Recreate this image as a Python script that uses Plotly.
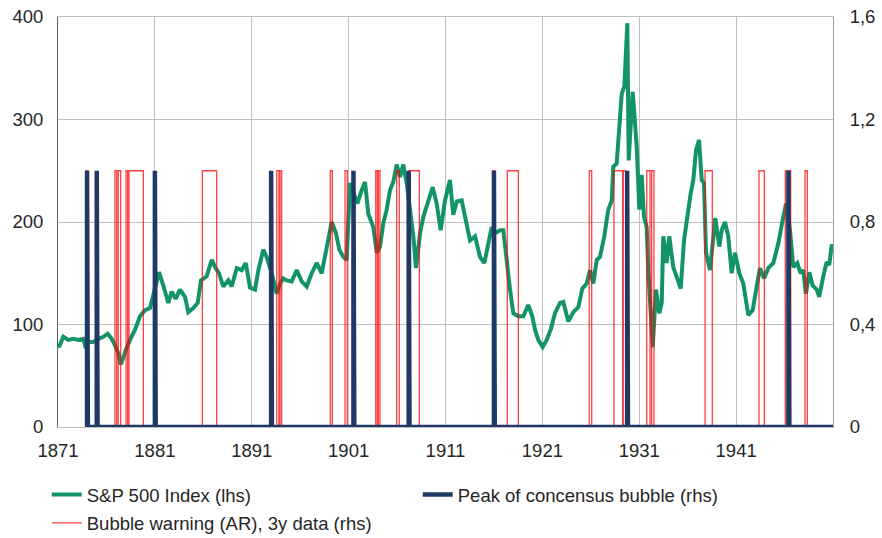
import plotly.graph_objects as go

# S&P 500 index (lhs)
sp_years = [
    1871.0, 1871.10, 1871.55, 1872.06, 1872.58, 1873.10, 1873.61, 1873.86, 1874.13, 1874.64,
    1875.16, 1875.68, 1876.13, 1876.54, 1876.88, 1877.22, 1877.50, 1877.74, 1877.99, 1878.43,
    1878.95, 1879.46, 1879.98, 1880.50, 1880.73, 1881.01, 1881.43, 1881.87, 1882.39, 1882.74,
    1883.15, 1883.59, 1884.11, 1884.45, 1884.97, 1885.42, 1885.76, 1886.35, 1886.87, 1887.21,
    1887.62, 1888.06, 1888.58, 1888.93, 1889.45, 1889.96, 1890.38, 1890.82, 1891.34, 1891.68,
    1892.19, 1892.54, 1893.06, 1893.58, 1893.92, 1894.26, 1894.61, 1895.12, 1895.64, 1896.16,
    1896.67, 1897.19, 1897.70, 1898.22, 1898.74, 1899.25, 1899.70, 1900.04, 1900.45, 1900.80,
    1901.14, 1901.56, 1901.90, 1902.35, 1902.69, 1903.03, 1903.55, 1903.90, 1904.24, 1904.58,
    1904.93, 1905.27, 1905.61, 1905.96, 1906.30, 1906.64, 1906.99, 1907.34, 1907.68, 1907.96,
    1908.37, 1908.71, 1909.22, 1909.68, 1910.09, 1910.50, 1910.95, 1911.46, 1911.80, 1912.16,
    1912.67, 1913.19, 1913.53, 1914.05, 1914.56, 1915.01, 1915.36, 1915.77, 1916.11, 1916.63,
    1916.97, 1917.32, 1917.66, 1918.00, 1918.51, 1919.03, 1919.55, 1919.96, 1920.24, 1920.58,
    1921.03, 1921.45, 1921.89, 1922.30, 1922.82, 1923.16, 1923.68, 1924.19, 1924.71, 1925.12,
    1925.57, 1925.92, 1926.26, 1926.61, 1926.95, 1927.39, 1927.80, 1928.16, 1928.32, 1928.67,
    1928.94, 1929.19, 1929.46, 1929.63, 1929.77, 1929.91, 1930.05, 1930.32, 1930.49, 1930.74,
    1931.01, 1931.25, 1931.49, 1931.77, 1931.93, 1932.11, 1932.39, 1932.73, 1933.07, 1933.32,
    1933.48, 1933.83, 1934.10, 1934.51, 1934.93, 1935.28, 1935.62, 1935.96, 1936.31, 1936.58,
    1936.86, 1937.17, 1937.45, 1937.68, 1937.89, 1938.30, 1938.58, 1938.85, 1939.26, 1939.51,
    1939.85, 1940.19, 1940.54, 1940.88, 1941.33, 1941.74, 1942.26, 1942.71, 1943.12, 1943.46,
    1943.88, 1944.32, 1944.84, 1945.35, 1945.81, 1946.15, 1946.56, 1946.90, 1947.31, 1947.66,
    1947.93, 1948.21, 1948.55, 1948.90, 1949.32, 1949.58, 1949.99, 1950.35, 1950.62, 1950.87,
    1951.0,
]
sp_values = [
    80, 78, 88, 85, 86, 85, 86, 77, 83, 83,
    86, 88, 91, 86, 80, 72, 61, 69, 75, 85,
    95, 108, 114, 116, 124, 137, 151, 138, 121, 132,
    125, 134, 127, 112, 116, 121, 143, 147, 163, 156,
    150, 137, 143, 137, 155, 153, 160, 136, 134, 153,
    173, 166, 150, 130, 140, 145, 143, 142, 153, 142,
    137, 150, 160, 150, 173, 200, 189, 173, 166, 163,
    238, 228, 218, 231, 239, 208, 195, 170, 176, 199,
    212, 231, 239, 256, 244, 256, 238, 212, 186, 155,
    189, 205, 221, 234, 218, 192, 221, 241, 207, 220,
    221, 195, 182, 186, 166, 160, 176, 195, 189, 192,
    192, 160, 134, 111, 108, 108, 119, 108, 95, 85,
    78, 85, 96, 111, 121, 122, 103, 112, 117, 135,
    140, 153, 140, 163, 166, 186, 212, 221, 254, 257,
    293, 325, 332, 365, 394, 260, 283, 327, 306, 273,
    212, 246, 205, 195, 153, 127, 78, 134, 111, 121,
    186, 160, 186, 156, 143, 135, 182, 208, 228, 241,
    270, 280, 241, 238, 170, 153, 182, 204, 176, 192,
    200, 186, 150, 170, 150, 140, 109, 114, 137, 155,
    145, 155, 160, 179, 202, 218, 192, 156, 160, 150,
    153, 130, 151, 138, 134, 127, 147, 161, 158, 178,
    174,
]

# Peak of consensus bubble (rhs): months where the flag is 1
peak_years = [1874.0, 1875.0, 1881.0, 1893.0, 1901.5, 1907.2, 1916.0, 1929.75, 1946.4]

# Bubble warning (AR), 3y data (rhs): periods where the flag is 1
warn_start = [1873.92, 1876.88, 1877.22, 1878.02, 1878.33, 1885.90, 1893.58, 1893.92,
              1899.11, 1900.63, 1903.80, 1904.07, 1905.96, 1907.23, 1915.87, 1917.38,
              1925.84, 1928.39, 1929.36, 1931.77, 1932.28, 1937.79, 1943.36, 1946.08,
              1948.11]
warn_end = [1874.08, 1877.06, 1877.47, 1878.19, 1879.81, 1887.38, 1893.81, 1894.09,
            1899.32, 1900.86, 1903.96, 1904.24, 1906.23, 1908.30, 1916.10, 1918.52,
            1926.09, 1929.29, 1929.60, 1932.11, 1932.52, 1938.54, 1943.91, 1946.63,
            1948.35]

flag_start = 1874.0
flag_end = 1951.0
x_ticks = [1871, 1881, 1891, 1901, 1911, 1921, 1931, 1941]

FONT = "Liberation Sans"
TEXT = "#262626"
GREEN = "#139468"
NAVY = "#1F3864"
RED = "rgba(255, 0, 0, 0.75)"
GRID = "#C0C0C0"

# turn the flags into step lines along a zero baseline
peak_x, peak_y = [flag_start], [0]
for p in peak_years:
    peak_x += [p, p, p + 1 / 12, p + 1 / 12]
    peak_y += [0, 1, 1, 0]
peak_x.append(flag_end)
peak_y.append(0)

warn_x, warn_y = [flag_start], [0]
for s, e in zip(warn_start, warn_end):
    warn_x += [s, s, e, e]
    warn_y += [0, 1, 1, 0]
warn_x.append(flag_end)
warn_y.append(0)

fig = go.Figure()

fig.add_trace(go.Scatter(
    x=sp_years, y=sp_values, mode="lines", name="S&P 500 Index (lhs)",
    line=dict(color=GREEN, width=4), legend="legend",
))
fig.add_trace(go.Scatter(
    x=warn_x, y=warn_y, mode="lines", name="Bubble warning (AR), 3y data (rhs)",
    line=dict(color=RED, width=1.3), yaxis="y2", legend="legend2",
))
fig.add_trace(go.Scatter(
    x=peak_x, y=peak_y, mode="lines", name="Peak of concensus bubble (rhs)",
    line=dict(color=NAVY, width=4.5), yaxis="y2", legend="legend",
))

fig.update_layout(
    width=882,
    height=538,
    margin=dict(l=58, r=49, t=17, b=111, autoexpand=False),
    paper_bgcolor="white",
    plot_bgcolor="white",
    separators=",.",
    font=dict(family=FONT, size=18.5, color=TEXT),
    showlegend=True,
    xaxis=dict(
        range=[1871, 1951],
        tickvals=x_ticks,
        ticktext=[str(t) for t in x_ticks],
        showgrid=True, gridcolor=GRID, gridwidth=1,
        zeroline=False,
        showline=True, mirror=True, linecolor=GRID, linewidth=1,
        ticks="", ticklabelstandoff=7, automargin=False,
    ),
    yaxis=dict(
        range=[0, 400], dtick=100,
        showgrid=True, gridcolor=GRID, gridwidth=1,
        zeroline=False,
        showline=True, linecolor="#606060", linewidth=1,
        ticks="", ticklabelstandoff=10, automargin=False,
        ticklabeloverflow="allow",
    ),
    yaxis2=dict(
        range=[0, 1.6], dtick=0.4,
        overlaying="y", side="right",
        showgrid=False, zeroline=False,
        showline=True, linecolor="#A0A0A0", linewidth=1,
        ticks="", ticklabelstandoff=12, automargin=False,
        ticklabeloverflow="allow",
    ),
    legend=dict(
        orientation="h", x=-0.0145, xanchor="left", y=-0.166, yanchor="middle",
        entrywidth=326, entrywidthmode="pixels",
        font=dict(family=FONT, size=18.5, color=TEXT),
        bgcolor="rgba(0,0,0,0)",
        traceorder="normal",
    ),
    legend2=dict(
        orientation="h", x=-0.0145, xanchor="left", y=-0.235, yanchor="middle",
        font=dict(family=FONT, size=18.5, color=TEXT),
        bgcolor="rgba(0,0,0,0)",
    ),
)

# drop the default 8px page margin so the figure fills the window exactly
fig.write_html(
    "out.html",
    config={"displayModeBar": False},
    post_script="document.body.style.margin = '0';",
)
